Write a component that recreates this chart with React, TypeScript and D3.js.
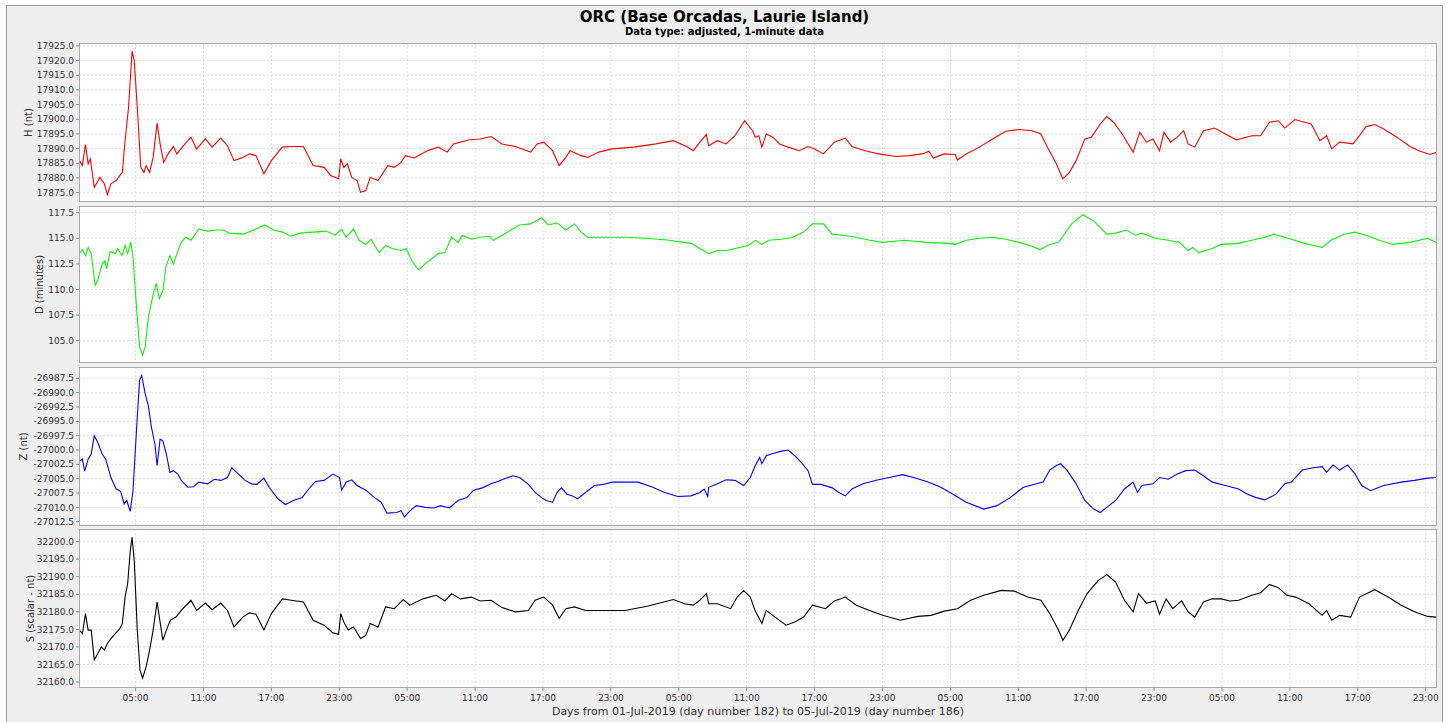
import * as d3 from "d3";

// readings from the plot: [hours since 01-Jul-2019 00:00, value]
const hSeries: [number, number][] = [
  [0.03, 17885.9], [0.3, 17884.2], [0.57, 17891.4], [0.81, 17884.8], [1.0, 17886.5], [1.35, 17876.8],
  [1.85, 17880.2], [2.24, 17878.0], [2.51, 17874.3], [2.82, 17878.0], [3.29, 17879.1], [3.6, 17880.8],
  [3.83, 17881.9], [4.07, 17892.7], [4.38, 17904.1], [4.69, 17923.2], [4.88, 17920.0], [5.15, 17904.1],
  [5.46, 17883.6], [5.74, 17881.9], [5.93, 17884.2], [6.24, 17881.9], [6.55, 17887.0], [6.9, 17898.6],
  [7.17, 17891.6], [7.48, 17885.3], [7.87, 17888.2], [8.34, 17890.7], [8.65, 17888.2], [9.23, 17891.0],
  [9.89, 17893.9], [10.4, 17889.9], [11.17, 17893.3], [11.76, 17890.5], [12.53, 17893.6], [13.12, 17891.0],
  [13.7, 17885.9], [14.48, 17887.0], [15.06, 17888.2], [15.64, 17887.6], [16.34, 17881.4], [17.0, 17885.9],
  [17.97, 17890.5], [18.75, 17890.7], [19.83, 17890.7], [20.69, 17884.2], [21.66, 17883.6], [22.24, 17880.8],
  [22.94, 17879.7], [23.13, 17886.5], [23.4, 17883.6], [23.71, 17884.8], [24.1, 17880.2], [24.57, 17879.1],
  [24.88, 17875.1], [25.35, 17875.7], [25.73, 17880.2], [26.43, 17879.1], [27.29, 17884.2], [27.87, 17883.6],
  [28.45, 17885.3], [28.84, 17887.6], [29.62, 17886.8], [30.78, 17889.3], [31.75, 17890.5], [32.53, 17888.8],
  [33.11, 17891.6], [34.47, 17893.0], [35.44, 17893.3], [36.41, 17894.1], [37.38, 17891.6], [38.55, 17890.7],
  [39.91, 17888.8], [40.49, 17891.6], [41.07, 17892.2], [41.85, 17889.3], [42.43, 17884.2], [43.02, 17887.0],
  [43.4, 17889.3], [44.37, 17887.6], [44.96, 17887.0], [45.93, 17888.8], [47.09, 17889.9], [49.03, 17890.5],
  [50.98, 17891.6], [52.53, 17892.7], [53.69, 17890.7], [54.28, 17889.3], [54.86, 17892.2], [55.44, 17894.8],
  [55.64, 17891.0], [56.41, 17892.7], [57.19, 17891.6], [57.96, 17894.4], [58.82, 17899.5], [59.52, 17896.1],
  [59.76, 17893.9], [60.07, 17894.4], [60.34, 17890.5], [60.73, 17895.0], [61.31, 17893.9], [61.9, 17891.6],
  [62.67, 17890.5], [63.64, 17889.3], [64.42, 17890.7], [65.0, 17889.9], [65.78, 17888.2], [66.75, 17892.2],
  [67.72, 17893.6], [68.3, 17890.7], [69.47, 17889.3], [70.63, 17888.2], [72.19, 17887.3], [73.35, 17887.6],
  [74.52, 17888.2], [75.1, 17889.1], [75.49, 17886.8], [76.46, 17888.2], [77.43, 17888.0], [77.62, 17886.1],
  [78.4, 17888.2], [79.56, 17890.5], [80.73, 17893.3], [81.89, 17895.9], [83.06, 17896.5], [84.22, 17896.1],
  [85.0, 17895.0], [85.58, 17890.5], [86.36, 17884.8], [86.94, 17879.7], [87.52, 17881.9], [88.11, 17885.9],
  [88.88, 17893.3], [89.46, 17893.9], [90.24, 17898.4], [90.82, 17900.9], [91.41, 17899.0], [92.18, 17895.0],
  [93.15, 17888.8], [93.74, 17895.6], [94.32, 17892.2], [94.9, 17893.3], [95.48, 17889.3], [95.87, 17895.6],
  [96.45, 17892.2], [97.04, 17893.9], [97.62, 17896.1], [98.01, 17891.6], [98.59, 17890.5], [99.37, 17896.1],
  [100.34, 17897.0], [101.31, 17895.0], [102.28, 17893.0], [103.64, 17894.4], [104.41, 17894.4], [105.19, 17899.0],
  [105.97, 17899.5], [106.55, 17897.0], [107.44, 17899.9], [108.88, 17898.4], [109.66, 17892.7], [110.24, 17894.4],
  [110.7, 17889.9], [111.4, 17892.2], [112.57, 17891.6], [113.15, 17894.4], [113.73, 17897.5], [114.51, 17898.2],
  [115.29, 17896.7], [116.45, 17893.9], [117.62, 17890.7], [118.39, 17889.3], [119.36, 17888.0], [119.91, 17888.7],
];

const dSeries: [number, number][] = [
  [0.03, 113.5], [0.3, 113.9], [0.57, 113.3], [0.81, 114.1], [1.08, 113.5], [1.43, 110.4], [1.66, 110.9],
  [2.05, 112.5], [2.28, 112.8], [2.44, 112.0], [2.75, 113.7], [3.21, 113.5], [3.41, 114.0], [3.8, 113.3],
  [4.07, 114.3], [4.3, 113.5], [4.57, 114.6], [4.77, 113.2], [5.08, 108.3], [5.35, 104.4], [5.62, 103.6],
  [5.85, 104.4], [6.13, 107.3], [6.51, 109.3], [6.82, 110.6], [7.1, 109.1], [7.41, 109.9], [7.68, 112.2],
  [8.03, 113.3], [8.34, 112.5], [8.65, 113.5], [9.04, 114.6], [9.43, 115.1], [9.89, 114.8], [10.59, 115.9],
  [11.37, 115.7], [12.14, 115.8], [12.73, 115.8], [13.31, 115.5], [14.48, 115.4], [15.25, 115.7], [16.42, 116.3],
  [17.19, 115.8], [17.97, 115.6], [18.75, 115.2], [19.52, 115.5], [20.69, 115.6], [21.85, 115.7], [22.63, 115.3],
  [23.21, 115.9], [23.6, 115.1], [24.26, 115.9], [24.76, 114.8], [25.35, 114.4], [25.81, 114.9], [26.51, 113.6],
  [27.09, 114.3], [27.68, 114.0], [28.45, 113.8], [28.92, 114.0], [29.42, 112.8], [30.01, 111.9], [30.59, 112.5],
  [31.17, 113.0], [31.75, 113.5], [32.34, 113.6], [32.92, 115.1], [33.5, 114.6], [33.89, 115.3], [34.67, 114.9],
  [35.44, 115.1], [36.22, 115.2], [36.61, 114.8], [37.38, 115.3], [38.16, 115.8], [38.94, 116.3], [39.91, 116.4],
  [40.88, 117.0], [41.46, 116.3], [42.24, 116.5], [43.02, 115.8], [43.79, 116.4], [44.37, 115.6], [44.96, 115.1],
  [46.32, 115.1], [48.26, 115.1], [50.2, 115.0], [52.14, 114.8], [54.08, 114.5], [54.86, 114.0], [55.64, 113.5],
  [56.41, 113.8], [57.19, 113.8], [57.96, 114.0], [59.13, 114.3], [59.76, 114.8], [60.34, 114.4], [60.93, 114.8],
  [62.09, 114.9], [63.06, 115.1], [64.03, 115.6], [64.81, 116.4], [65.78, 116.4], [66.56, 115.4], [67.53, 115.3],
  [68.69, 115.1], [69.86, 114.8], [71.02, 114.6], [72.96, 114.8], [74.9, 114.6], [76.85, 114.5], [77.43, 114.4],
  [78.4, 114.8], [79.56, 115.0], [80.73, 115.1], [81.89, 114.9], [83.06, 114.6], [84.03, 114.3], [84.92, 113.9],
  [85.78, 114.4], [86.55, 114.6], [87.72, 116.4], [88.69, 117.3], [89.66, 116.7], [90.82, 115.4], [91.6, 115.5],
  [92.57, 115.8], [93.35, 115.3], [93.93, 115.5], [95.1, 115.0], [96.26, 114.8], [97.23, 114.6], [98.01, 113.8],
  [98.4, 114.1], [98.98, 113.6], [100.14, 114.0], [100.92, 114.4], [102.47, 114.5], [103.64, 114.8], [104.8, 115.1],
  [105.58, 115.4], [107.13, 114.9], [108.3, 114.5], [109.85, 114.1], [110.63, 114.8], [111.79, 115.4], [112.76, 115.6],
  [113.73, 115.3], [114.9, 114.8], [116.06, 114.4], [117.62, 114.6], [119.17, 115.0], [119.91, 114.6],
];

const zSeries: [number, number][] = [
  [0.03, -27001.9], [0.3, -27001.6], [0.5, -27003.7], [0.81, -27001.6], [1.08, -27000.7], [1.35, -26997.5],
  [1.66, -26998.7], [2.05, -27000.7], [2.36, -27001.6], [2.82, -27004.8], [3.29, -27006.8], [3.68, -27007.2],
  [3.99, -27009.4], [4.22, -27008.8], [4.53, -27010.7], [4.77, -27007.1], [5.08, -26996.6], [5.35, -26987.9],
  [5.54, -26987.0], [5.85, -26990.2], [6.13, -26992.3], [6.4, -26996.0], [6.71, -26999.0], [6.9, -27002.7],
  [7.17, -26998.1], [7.41, -26998.4], [7.72, -27000.7], [8.03, -27003.9], [8.34, -27003.6], [8.73, -27004.2],
  [9.04, -27005.3], [9.62, -27006.5], [10.12, -27006.4], [10.59, -27005.6], [11.37, -27005.9], [11.95, -27005.1],
  [12.53, -27005.3], [13.12, -27004.8], [13.5, -27003.1], [14.09, -27004.2], [14.67, -27005.3], [15.25, -27005.9],
  [15.72, -27006.0], [16.34, -27004.9], [16.8, -27006.5], [17.58, -27008.5], [18.24, -27009.5], [18.94, -27008.8],
  [19.72, -27008.3], [20.3, -27006.8], [20.89, -27005.5], [21.66, -27005.3], [22.44, -27004.2], [23.02, -27004.8],
  [23.21, -27007.0], [23.6, -27005.6], [24.1, -27005.2], [24.57, -27006.2], [25.35, -27007.0], [26.12, -27008.3],
  [26.7, -27009.1], [27.21, -27011.0], [28.07, -27010.9], [28.45, -27010.6], [28.76, -27011.7], [29.23, -27010.6],
  [29.81, -27009.7], [30.59, -27010.0], [31.36, -27010.1], [31.95, -27009.7], [32.73, -27010.1], [33.5, -27008.8],
  [34.28, -27008.3], [34.86, -27007.0], [35.64, -27006.6], [36.41, -27005.9], [37.0, -27005.5], [37.77, -27004.9],
  [38.35, -27004.5], [38.94, -27004.8], [39.71, -27006.0], [40.3, -27007.4], [40.88, -27008.3], [41.27, -27008.8],
  [41.85, -27009.1], [42.24, -27007.4], [42.63, -27006.6], [43.13, -27007.7], [43.6, -27008.0], [44.06, -27008.5],
  [44.76, -27007.4], [45.54, -27006.2], [46.32, -27006.0], [47.09, -27005.6], [48.26, -27005.6], [49.42, -27005.6],
  [50.59, -27006.4], [51.75, -27007.4], [52.92, -27008.1], [54.08, -27008.0], [54.86, -27007.4], [55.25, -27006.8],
  [55.56, -27008.1], [55.64, -27006.5], [56.41, -27005.9], [57.19, -27005.2], [57.96, -27005.3], [58.74, -27006.2],
  [59.32, -27004.8], [59.76, -27002.7], [60.15, -27001.3], [60.34, -27002.4], [60.73, -27001.0], [61.31, -27000.6],
  [62.09, -27000.2], [62.67, -27000.0], [63.25, -27001.0], [63.84, -27002.2], [64.42, -27003.6], [64.81, -27006.0],
  [65.58, -27006.0], [66.56, -27006.6], [67.14, -27007.4], [67.72, -27008.0], [68.3, -27006.8], [69.27, -27005.9],
  [70.63, -27005.2], [71.8, -27004.7], [72.77, -27004.3], [73.74, -27004.8], [74.9, -27005.5], [76.07, -27006.4],
  [77.23, -27007.7], [78.4, -27009.1], [79.95, -27010.3], [81.12, -27009.7], [82.28, -27008.3], [83.45, -27006.5],
  [84.61, -27005.9], [85.19, -27005.6], [85.78, -27003.5], [86.36, -27002.7], [86.75, -27002.4], [87.33, -27003.6],
  [88.11, -27005.9], [88.88, -27008.8], [89.66, -27010.3], [90.24, -27010.9], [90.82, -27010.0], [91.6, -27008.8],
  [92.38, -27006.8], [93.15, -27005.6], [93.54, -27007.4], [93.93, -27006.2], [94.9, -27005.9], [95.48, -27004.8],
  [96.26, -27005.1], [97.04, -27004.2], [97.81, -27003.6], [98.59, -27003.5], [99.37, -27004.5], [100.14, -27005.6],
  [101.31, -27006.2], [102.47, -27006.8], [103.25, -27007.7], [104.03, -27008.3], [104.8, -27008.7], [105.77, -27007.7],
  [106.55, -27005.9], [107.13, -27005.6], [108.1, -27003.5], [109.07, -27003.1], [109.85, -27002.9], [110.24, -27003.9],
  [110.82, -27002.6], [111.4, -27003.5], [112.1, -27002.6], [112.76, -27004.2], [113.35, -27006.2], [114.12, -27007.1],
  [115.29, -27006.2], [116.84, -27005.6], [118.01, -27005.3], [119.17, -27004.9], [119.91, -27004.8],
];

const sSeries: [number, number][] = [
  [0.03, 32174.8], [0.3, 32173.8], [0.57, 32179.5], [0.81, 32174.8], [1.08, 32174.8], [1.35, 32166.3],
  [1.66, 32168.1], [1.97, 32170.0], [2.24, 32169.1], [2.51, 32171.0], [2.82, 32172.4], [3.21, 32173.8],
  [3.6, 32175.2], [3.83, 32176.7], [4.07, 32184.2], [4.3, 32188.0], [4.53, 32197.4], [4.69, 32201.2],
  [4.88, 32194.6], [5.15, 32174.8], [5.39, 32163.4], [5.62, 32161.1], [5.93, 32164.4], [6.24, 32169.1],
  [6.55, 32174.8], [6.9, 32182.8], [7.1, 32178.5], [7.41, 32171.9], [7.72, 32174.8], [8.07, 32177.6],
  [8.57, 32178.5], [9.04, 32180.4], [9.89, 32183.3], [10.4, 32180.4], [11.17, 32182.5], [11.76, 32180.6],
  [12.53, 32182.5], [13.12, 32180.4], [13.7, 32175.7], [14.48, 32178.5], [15.06, 32179.7], [15.64, 32179.3],
  [16.34, 32174.8], [17.0, 32179.5], [17.97, 32183.7], [18.75, 32183.3], [19.83, 32182.8], [20.69, 32177.6],
  [21.66, 32176.2], [22.44, 32174.0], [22.94, 32173.6], [23.13, 32179.5], [23.4, 32177.1], [23.79, 32174.8],
  [24.26, 32175.7], [24.88, 32172.4], [25.35, 32173.3], [25.73, 32176.7], [26.43, 32175.7], [27.09, 32181.4],
  [27.87, 32180.9], [28.65, 32183.5], [29.23, 32181.9], [30.39, 32183.7], [31.56, 32184.7], [32.34, 32183.1],
  [32.92, 32185.2], [33.7, 32183.7], [34.67, 32184.2], [35.44, 32183.1], [36.41, 32183.3], [37.38, 32181.2],
  [38.55, 32180.0], [39.71, 32180.4], [40.3, 32183.3], [41.07, 32184.2], [41.85, 32181.9], [42.43, 32178.1],
  [43.02, 32180.9], [43.79, 32181.4], [44.76, 32180.4], [46.32, 32180.4], [48.26, 32180.4], [50.2, 32181.6],
  [52.53, 32183.5], [53.5, 32182.3], [54.28, 32181.9], [54.86, 32183.3], [55.44, 32185.2], [55.64, 32182.3],
  [56.41, 32182.3], [57.58, 32180.9], [58.16, 32184.2], [58.74, 32186.1], [59.32, 32184.2], [59.76, 32180.2],
  [60.34, 32176.7], [60.73, 32180.4], [61.51, 32178.5], [62.48, 32176.2], [63.25, 32177.1], [64.03, 32178.5],
  [64.81, 32181.9], [65.97, 32180.9], [66.75, 32183.1], [67.72, 32184.2], [68.69, 32181.9], [69.86, 32180.4],
  [71.02, 32179.0], [72.57, 32177.6], [74.13, 32178.7], [75.29, 32179.0], [76.46, 32180.2], [77.62, 32180.9],
  [78.79, 32183.3], [79.95, 32184.7], [81.51, 32186.1], [82.67, 32185.9], [83.83, 32184.2], [85.0, 32183.3],
  [85.78, 32179.5], [86.55, 32174.8], [86.94, 32171.9], [87.52, 32174.8], [88.3, 32180.4], [89.08, 32185.2],
  [90.05, 32188.9], [90.82, 32190.6], [91.6, 32188.5], [92.38, 32183.3], [93.15, 32180.0], [93.62, 32185.2],
  [94.32, 32182.5], [95.1, 32183.1], [95.48, 32179.3], [96.07, 32183.7], [96.65, 32180.9], [97.43, 32183.1],
  [98.01, 32180.0], [98.59, 32178.5], [99.37, 32182.8], [100.14, 32183.7], [100.92, 32183.7], [101.7, 32183.1],
  [102.47, 32183.3], [103.64, 32184.7], [104.41, 32185.4], [105.19, 32187.8], [105.97, 32186.9], [106.75, 32184.7],
  [107.52, 32184.2], [108.69, 32182.3], [109.85, 32179.0], [110.24, 32180.4], [110.7, 32177.6], [111.4, 32179.0],
  [112.37, 32178.5], [113.15, 32184.2], [114.51, 32186.3], [115.68, 32184.2], [116.84, 32181.9], [118.01, 32180.0],
  [119.17, 32178.7], [119.91, 32178.5],
];

const hTicks = [17875, 17880, 17885, 17890, 17895, 17900, 17905, 17910, 17915, 17920, 17925];
const dTicks = [105, 107.5, 110, 112.5, 115, 117.5];
const zTicks = [-27012.5, -27010, -27007.5, -27005, -27002.5, -27000, -26997.5, -26995, -26992.5, -26990, -26987.5];
const sTicks = [32160, 32165, 32170, 32175, 32180, 32185, 32190, 32195, 32200];

const xTickHours = d3.range(5, 120, 6);

const title = "ORC (Base Orcadas, Laurie Island)";
const subtitle = "Data type: adjusted, 1-minute data";
const xLabel = "Days from 01-Jul-2019 (day number 182) to 05-Jul-2019 (day number 186)";

const W = 1451;
const H = 722;
const plotLeft = 79;
const plotRight = 1437;

const panels = [
  { key: "h", label: "H (nt)", data: hSeries, ticks: hTicks, domain: [17871.8, 17926.0], color: "#ff0000", top: 43, bottom: 202, labelX: 28 },
  { key: "d", label: "D (minutes)", data: dSeries, ticks: dTicks, domain: [102.82, 118.15], color: "#11ee11", top: 206, bottom: 363, labelX: 39 },
  { key: "z", label: "Z (nt)", data: zSeries, ticks: zTicks, domain: [-27013.25, -26985.53], color: "#0000ff", top: 367, bottom: 526, labelX: 23 },
  { key: "s", label: "S (scalar - nt)", data: sSeries, ticks: sTicks, domain: [32158.3, 32203.6], color: "#000000", top: 529, bottom: 688, labelX: 30 },
];

const fmt = (v: number) => v.toFixed(1);
const hourLabel = (h: number) => `${String(h % 24).padStart(2, "0")}:00`;

export default function App() {
  const x = d3.scaleLinear().domain([0, 120]).range([plotLeft, plotRight]);
  const font = "'DejaVu Sans', Verdana, sans-serif";
  const last = panels[panels.length - 1];

  return (
    <div style={{ position: "absolute", left: 0, top: 0 }}>
      <svg width={W} height={H} style={{ display: "block", fontFamily: font }}>
        <rect x={0} y={0} width={W} height={H} fill="#ffffff" />
        <rect x={6.5} y={5.5} width={1436} height={H} fill="#eeeeee" stroke="#9a9a9a" />
        <text x={724.5} y={22} textAnchor="middle" fontSize={15} fontWeight="bold" fill="#000">
          {title}
        </text>
        <text x={724.5} y={35} textAnchor="middle" fontSize={10} fontWeight="bold" fill="#000">
          {subtitle}
        </text>

        {panels.map((p) => {
          const y = d3.scaleLinear().domain(p.domain).range([p.bottom, p.top]);
          const line = d3
            .line<[number, number]>()
            .x((d) => x(d[0]))
            .y((d) => y(d[1]));
          const clipId = `clip-${p.key}`;
          return (
            <g key={p.key}>
              <defs>
                <clipPath id={clipId}>
                  <rect x={plotLeft} y={p.top} width={plotRight - plotLeft} height={p.bottom - p.top} />
                </clipPath>
              </defs>
              <rect x={plotLeft} y={p.top} width={plotRight - plotLeft} height={p.bottom - p.top} fill="#ffffff" />
              {p.ticks.map((t) => (
                <line key={`gy${t}`} x1={plotLeft} x2={plotRight} y1={y(t)} y2={y(t)} stroke="#d4d4d4" strokeWidth={0.8} strokeDasharray="2 2" />
              ))}
              {xTickHours.map((h) => (
                <line key={`gx${h}`} x1={x(h)} x2={x(h)} y1={p.top} y2={p.bottom} stroke="#d4d4d4" strokeWidth={0.8} strokeDasharray="2 2" />
              ))}
              <path d={line(p.data) || ""} fill="none" stroke={p.color} strokeWidth={1.1} clipPath={`url(#${clipId})`} />
              <rect x={plotLeft + 0.5} y={p.top + 0.5} width={plotRight - plotLeft - 1} height={p.bottom - p.top - 1} fill="none" stroke="#a8a8a8" />
              {p.ticks.map((t) => (
                <g key={`ty${t}`}>
                  <line x1={plotLeft - 3} x2={plotLeft} y1={y(t)} y2={y(t)} stroke="#888" />
                  <text x={plotLeft - 5} y={y(t)} dy="0.35em" textAnchor="end" fontSize={9} fill="#333">
                    {fmt(t)}
                  </text>
                </g>
              ))}
              <text
                transform={`translate(${p.labelX},${(p.top + p.bottom) / 2}) rotate(-90)`}
                textAnchor="middle"
                dy="0.35em"
                fontSize={10}
                fill="#333"
              >
                {p.label}
              </text>
            </g>
          );
        })}

        {xTickHours.map((h) => (
          <g key={`tx${h}`}>
            <line x1={x(h)} x2={x(h)} y1={last.bottom} y2={last.bottom + 3} stroke="#888" />
            <text x={x(h)} y={701} textAnchor="middle" fontSize={9} fill="#333">
              {hourLabel(h)}
            </text>
          </g>
        ))}
        <text x={(plotLeft + plotRight) / 2} y={715} textAnchor="middle" fontSize={11} fill="#333">
          {xLabel}
        </text>
      </svg>
    </div>
  );
}
